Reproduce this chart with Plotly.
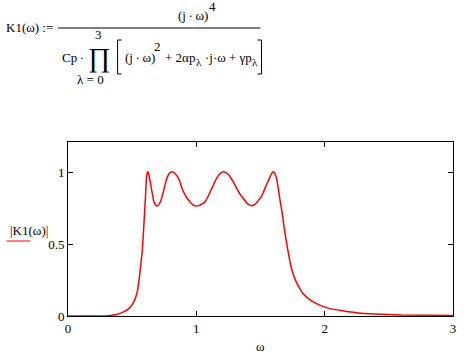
import plotly.graph_objects as go

# Data
omega = [0.0, 0.30, 0.33, 0.385, 0.437, 0.476, 0.514, 0.54, 0.56, 0.579, 0.592,
         0.605, 0.612, 0.617, 0.622, 0.627, 0.634, 0.643, 0.656, 0.669, 0.682,
         0.694, 0.708, 0.725, 0.742, 0.759, 0.775, 0.79, 0.80, 0.81, 0.822,
         0.835, 0.848, 0.862, 0.875, 0.888, 0.90, 0.92, 0.939, 0.96, 0.98,
         0.999, 1.02, 1.045, 1.068, 1.09, 1.112, 1.133, 1.155, 1.17, 1.19,
         1.21, 1.23, 1.25, 1.268, 1.287, 1.31, 1.338, 1.365, 1.39, 1.412,
         1.434, 1.455, 1.475, 1.492, 1.506, 1.519, 1.54, 1.558, 1.575, 1.588,
         1.597, 1.607, 1.618, 1.628, 1.638, 1.648, 1.669, 1.687, 1.713, 1.738,
         1.777, 1.829, 1.88, 1.958, 2.035, 2.138, 2.29, 2.39, 2.6, 3.0]
K1_abs = [0.0, 0.0, 0.004, 0.012, 0.030, 0.053, 0.10, 0.17, 0.297, 0.459, 0.645,
          0.854, 0.969, 0.995, 1.004, 0.995, 0.965, 0.923, 0.855, 0.795, 0.772,
          0.765, 0.775, 0.807, 0.86, 0.923, 0.968, 0.993, 1.001, 1.004, 1.0,
          0.99, 0.976, 0.958, 0.925, 0.889, 0.865, 0.83, 0.807, 0.785, 0.77,
          0.765, 0.768, 0.78, 0.795, 0.83, 0.872, 0.912, 0.952, 0.975, 0.995,
          1.004, 0.998, 0.985, 0.962, 0.935, 0.895, 0.852, 0.819, 0.79, 0.773,
          0.768, 0.775, 0.795, 0.815, 0.83, 0.854, 0.9, 0.935, 0.97, 0.993,
          1.004, 0.998, 0.978, 0.946, 0.89, 0.83, 0.715, 0.598, 0.459, 0.343,
          0.239, 0.158, 0.116, 0.077, 0.053, 0.037, 0.019, 0.014, 0.007, 0.004]
x_ticks = [0, 1, 2, 3]
y_ticks = [0, 0.5, 1]
y_tick_text = ["0", "0.5", "1"]

W, H = 466, 356
L, R, T, B = 68, 10, 142, 40
PW, PH = W - L - R, H - T - B


def px(x):
    return (x - L) / PW


def py(y):
    return (H - B - y) / PH


FONT = "Liberation Serif"
TS = "\u2009"  # thin space

fig = go.Figure()
fig.add_trace(go.Scatter(x=omega, y=K1_abs, mode="lines",
                         line=dict(color="#ff0000", width=1.5, shape="spline",
                                   smoothing=0.4),
                         hoverinfo="skip", showlegend=False))

axis_common = dict(showgrid=False, zeroline=False, showline=True,
                   linecolor="black", linewidth=1, mirror="ticks",
                   ticks="inside", ticklen=5, tickcolor="black", tickwidth=1,
                   tickfont=dict(family=FONT, size=13, color="black"))

fig.update_xaxes(range=[0, 3], tickvals=x_ticks, **axis_common)
fig.update_yaxes(range=[0, 1.211], tickvals=y_ticks, ticktext=y_tick_text,
                 **axis_common)

ann = []


def add_text(text, x, y, size=13, xanchor="center"):
    ann.append(dict(text=text, x=px(x), y=py(y), xref="paper", yref="paper",
                    xanchor=xanchor, yanchor="middle", showarrow=False,
                    font=dict(family=FONT, size=size, color="black")))


# Formula
add_text("K1(ω) :=", 3, 27, xanchor="left")
add_text(f"(j{TS}·{TS}ω)", 177, 15, xanchor="left")
add_text("4", 214, 6)
add_text(f"Cp{TS}·", 60, 57, xanchor="left")
add_text("∏", 99, 58, size=27)
add_text("3", 99, 35)
add_text("λ = 0", 91, 79)
add_text(f"(j{TS}·{TS}ω)", 123, 58, xanchor="left")
add_text("2", 158, 46)
add_text("+ 2αp", 164, 58, xanchor="left")
add_text("λ", 200, 62, size=11)
add_text("·j·ω", 204, 58, xanchor="left")
add_text("+ γp", 228, 58, xanchor="left")
add_text("λ", 256, 62, size=11)

# Axis labels
add_text("|K1(ω)|", 29, 230)
add_text("ω", 262, 346)

shapes = [
    dict(type="line", xref="paper", yref="paper", x0=px(58), x1=px(262),
         y0=py(28), y1=py(28), line=dict(color="black", width=1)),
    dict(type="path", xref="paper", yref="paper",
         path=f"M {px(122)} {py(40)} L {px(118)} {py(40)} L {px(118)} {py(74)} L {px(122)} {py(74)}",
         line=dict(color="black", width=1)),
    dict(type="path", xref="paper", yref="paper",
         path=f"M {px(259)} {py(40)} L {px(263)} {py(40)} L {px(263)} {py(74)} L {px(259)} {py(74)}",
         line=dict(color="black", width=1)),
    dict(type="line", xref="paper", yref="paper", x0=px(6), x1=px(30),
         y0=py(241), y1=py(241), line=dict(color="#ff0000", width=1)),
]

fig.update_layout(width=W, height=H, margin=dict(l=L, r=R, t=T, b=B),
                  paper_bgcolor="white", plot_bgcolor="white",
                  font=dict(family=FONT),
                  annotations=ann, shapes=shapes, showlegend=False)

fig.write_html("out.html", config={"displayModeBar": False})
